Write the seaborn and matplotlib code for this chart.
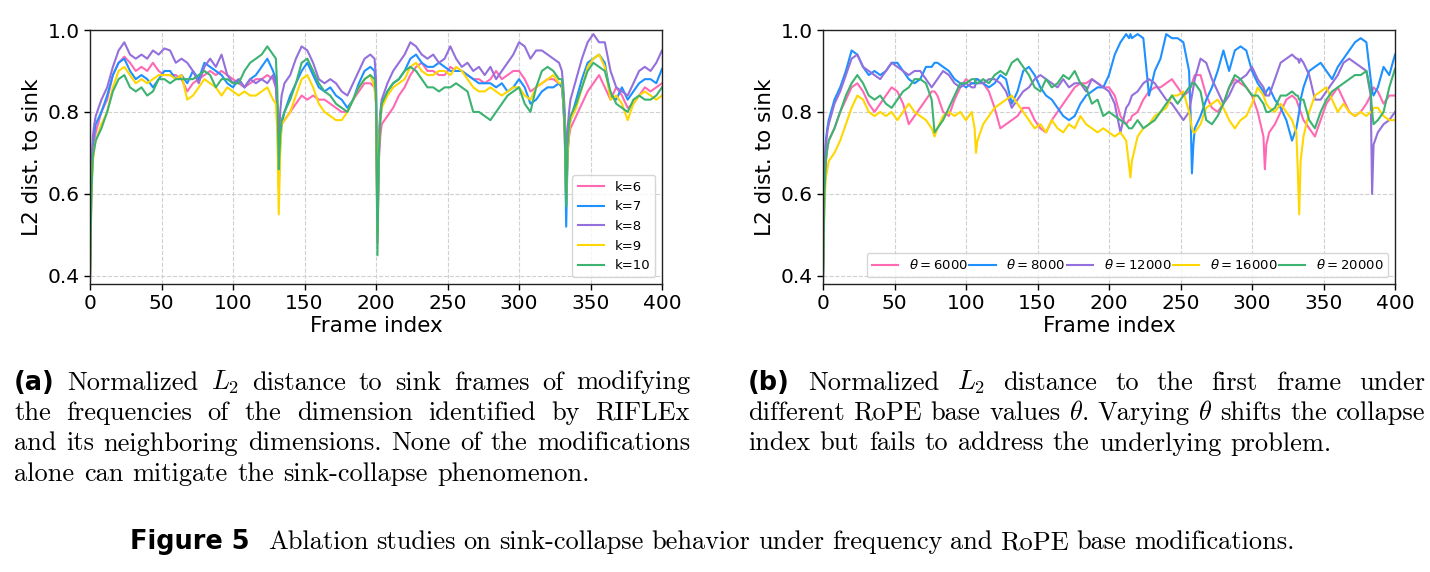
import matplotlib
matplotlib.use("Agg")
import matplotlib.pyplot as plt
import numpy as np
import pandas as pd
import seaborn as sns

# ---------------- data: panel (a) ----------------
frames_a = [0, 1, 2, 3, 4,
            8, 12, 16, 20, 24, 28, 32, 36, 40, 44, 48, 52, 56, 60, 64, 68, 72, 76, 80, 84, 88, 92, 96, 100,
            104, 108, 112, 116, 120, 124, 128,
            130, 131, 132, 133, 134,
            136, 140, 144, 148, 152, 156, 160, 164, 168, 172, 176, 180, 184, 188, 192, 196,
            199, 200, 201, 202, 203, 204,
            208, 212, 216, 220, 224, 228, 232, 236, 240, 244, 248, 252, 256, 260, 264, 268, 272, 276, 280,
            284, 288, 292, 296, 300, 304, 308, 312, 316, 320, 324, 328,
            330, 331, 332, 333, 334, 335, 336,
            340, 344, 348, 352, 356, 360, 364, 368, 372, 376, 380, 384, 388, 392, 396, 400]

k6 = [0.40, 0.62, 0.70, 0.73, 0.75,
      0.80, 0.83, 0.89, 0.92, 0.935, 0.92, 0.90, 0.91, 0.90, 0.92, 0.90, 0.89, 0.89, 0.89, 0.88, 0.85,
      0.87, 0.88, 0.89, 0.90, 0.89, 0.90, 0.89, 0.88, 0.87, 0.86, 0.87, 0.88, 0.88, 0.89, 0.88,
      0.86, 0.80, 0.70, 0.75, 0.77,
      0.78, 0.80, 0.82, 0.84, 0.83, 0.84, 0.83, 0.83, 0.82, 0.81, 0.80, 0.80, 0.83, 0.85, 0.87, 0.87,
      0.86, 0.82, 0.48, 0.68, 0.74, 0.77,
      0.79, 0.81, 0.84, 0.86, 0.89, 0.91, 0.92, 0.90, 0.90, 0.89, 0.89, 0.91, 0.90, 0.90, 0.89, 0.88,
      0.88, 0.87, 0.88, 0.90, 0.88, 0.89, 0.90, 0.90, 0.88, 0.85, 0.86, 0.87, 0.88, 0.88, 0.87,
      0.86, 0.82, 0.74, 0.58, 0.70, 0.74, 0.76,
      0.79, 0.82, 0.85, 0.87, 0.89, 0.86, 0.83, 0.86, 0.84, 0.81, 0.82, 0.84, 0.86, 0.85, 0.86, 0.87]

k7 = [0.40, 0.64, 0.72, 0.75, 0.77,
      0.80, 0.84, 0.89, 0.92, 0.93, 0.90, 0.88, 0.89, 0.88, 0.86, 0.88, 0.90, 0.90, 0.88, 0.89, 0.87,
      0.90, 0.88, 0.92, 0.91, 0.90, 0.89, 0.87, 0.86, 0.88, 0.86, 0.88, 0.89, 0.91, 0.93, 0.90,
      0.88, 0.80, 0.62, 0.72, 0.77,
      0.80, 0.84, 0.87, 0.90, 0.92, 0.89, 0.86, 0.85, 0.86, 0.84, 0.83, 0.81, 0.83, 0.87, 0.90, 0.91,
      0.90, 0.86, 0.50, 0.72, 0.78, 0.82,
      0.85, 0.87, 0.88, 0.90, 0.93, 0.94, 0.92, 0.91, 0.91, 0.92, 0.91, 0.90, 0.90, 0.90, 0.89, 0.88,
      0.87, 0.87, 0.87, 0.86, 0.87, 0.85, 0.86, 0.88, 0.86, 0.82, 0.83, 0.85, 0.86, 0.86, 0.87,
      0.86, 0.82, 0.75, 0.52, 0.70, 0.76, 0.78,
      0.83, 0.88, 0.92, 0.93, 0.94, 0.92, 0.84, 0.83, 0.86, 0.83, 0.85, 0.87, 0.88, 0.88, 0.87, 0.905]

k8 = [0.40, 0.66, 0.74, 0.77, 0.79,
      0.83, 0.86, 0.91, 0.95, 0.97, 0.94, 0.93, 0.94, 0.93, 0.95, 0.94, 0.955, 0.95, 0.92, 0.93, 0.92,
      0.90, 0.87, 0.91, 0.93, 0.91, 0.94, 0.89, 0.87, 0.88, 0.86, 0.88, 0.87, 0.88, 0.87, 0.89,
      0.86, 0.82, 0.72, 0.80, 0.84,
      0.87, 0.89, 0.93, 0.96, 0.95, 0.92, 0.88, 0.87, 0.88, 0.87, 0.85, 0.84, 0.87, 0.90, 0.93, 0.94,
      0.93, 0.88, 0.55, 0.74, 0.80, 0.83,
      0.87, 0.90, 0.92, 0.94, 0.97, 0.96, 0.94, 0.93, 0.94, 0.92, 0.93, 0.96, 0.93, 0.91, 0.92, 0.90,
      0.91, 0.89, 0.91, 0.88, 0.90, 0.92, 0.94, 0.97, 0.96, 0.93, 0.95, 0.95, 0.94, 0.93, 0.92,
      0.90, 0.86, 0.80, 0.68, 0.76, 0.80, 0.83,
      0.88, 0.93, 0.97, 0.99, 0.97, 0.97, 0.90, 0.86, 0.85, 0.84, 0.87, 0.90, 0.91, 0.90, 0.92, 0.95]

k9 = [0.39, 0.60, 0.68, 0.71, 0.73,
      0.77, 0.80, 0.86, 0.90, 0.91, 0.89, 0.87, 0.88, 0.87, 0.88, 0.89, 0.89, 0.89, 0.88, 0.89, 0.83,
      0.84, 0.86, 0.88, 0.87, 0.86, 0.84, 0.86, 0.85, 0.84, 0.85, 0.84, 0.84, 0.85, 0.86, 0.83,
      0.82, 0.75, 0.55, 0.70, 0.77,
      0.78, 0.80, 0.84, 0.88, 0.89, 0.86, 0.82, 0.80, 0.79, 0.78, 0.78, 0.80, 0.83, 0.86, 0.88, 0.89,
      0.86, 0.82, 0.50, 0.72, 0.78, 0.81,
      0.84, 0.86, 0.87, 0.88, 0.91, 0.92, 0.90, 0.89, 0.89, 0.90, 0.90, 0.89, 0.91, 0.90, 0.88, 0.86,
      0.85, 0.85, 0.86, 0.85, 0.84, 0.85, 0.86, 0.86, 0.84, 0.83, 0.86, 0.87, 0.88, 0.89, 0.87,
      0.87, 0.83, 0.76, 0.58, 0.70, 0.75, 0.78,
      0.81, 0.86, 0.91, 0.93, 0.94, 0.91, 0.83, 0.84, 0.82, 0.78, 0.82, 0.84, 0.85, 0.84, 0.83, 0.84]

k10 = [0.38, 0.60, 0.69, 0.71, 0.73,
       0.76, 0.80, 0.85, 0.88, 0.89, 0.86, 0.85, 0.86, 0.84, 0.85, 0.88, 0.88, 0.87, 0.88, 0.88, 0.88,
       0.88, 0.89, 0.90, 0.89, 0.86, 0.88, 0.88, 0.87, 0.87, 0.90, 0.92, 0.93, 0.94, 0.96, 0.94,
       0.93, 0.85, 0.66, 0.74, 0.78,
       0.80, 0.83, 0.87, 0.92, 0.93, 0.90, 0.87, 0.85, 0.84, 0.82, 0.81, 0.80, 0.83, 0.86, 0.88, 0.89,
       0.88, 0.84, 0.45, 0.70, 0.78, 0.82,
       0.85, 0.87, 0.88, 0.90, 0.91, 0.90, 0.88, 0.86, 0.86, 0.85, 0.86, 0.86, 0.87, 0.86, 0.85, 0.80,
       0.80, 0.79, 0.78, 0.80, 0.82, 0.84, 0.85, 0.86, 0.82, 0.80, 0.86, 0.90, 0.91, 0.90, 0.88,
       0.88, 0.84, 0.76, 0.57, 0.72, 0.77, 0.79,
       0.82, 0.86, 0.90, 0.92, 0.91, 0.90, 0.85, 0.82, 0.81, 0.80, 0.83, 0.84, 0.83, 0.83, 0.84, 0.86]

# ---------------- data: panel (b) ----------------
frames_b = [0, 1, 2, 3, 4,
            8, 12, 16, 20, 24, 28, 32, 36, 40, 44, 48, 52, 56, 60, 64, 68, 72, 76,
            78,
            80, 84, 88, 92, 96, 100, 104,
            106, 107,
            108, 112, 116, 120, 124, 128, 132, 136, 140, 144, 148, 152, 156, 160, 164, 168, 172, 176,
            180, 184, 188, 192, 196, 200, 204, 208, 212,
            214, 215,
            216, 220, 224, 228, 232, 236, 240, 244, 248, 252, 256,
            257, 258, 259,
            260, 264, 268, 272, 276, 280, 284, 288, 292, 296, 300, 304, 308,
            309, 310,
            312, 316, 320, 324, 328,
            331, 332, 333, 334,
            336, 340, 344, 348, 352, 356, 360, 364, 368, 372, 376, 380,
            383, 384, 385,
            388, 392, 396, 400]

th6000 = [0.40, 0.60, 0.68, 0.71, 0.73,
          0.76, 0.80, 0.83, 0.86, 0.87, 0.85, 0.82, 0.80, 0.82, 0.84, 0.86, 0.85, 0.82, 0.77, 0.79, 0.81, 0.83, 0.85,
          0.85,
          0.84, 0.80, 0.79, 0.83, 0.86, 0.88, 0.87,
          0.87, 0.88,
          0.88, 0.87, 0.85, 0.81, 0.76, 0.77, 0.78, 0.79, 0.81, 0.81, 0.78, 0.76, 0.75, 0.78, 0.80, 0.82,
          0.84, 0.86, 0.87, 0.87, 0.88, 0.87, 0.86, 0.86, 0.84, 0.79, 0.77,
          0.78, 0.78,
          0.79, 0.80, 0.83, 0.85, 0.86, 0.86, 0.87, 0.88, 0.86, 0.84, 0.85,
          0.86, 0.87, 0.88,
          0.89, 0.89, 0.84, 0.81, 0.80, 0.82, 0.86, 0.88, 0.87, 0.86, 0.84, 0.80, 0.74,
          0.66, 0.72,
          0.75, 0.77, 0.80, 0.83, 0.84,
          0.83, 0.82, 0.81, 0.80,
          0.78, 0.76, 0.74, 0.78, 0.82, 0.84, 0.86, 0.83, 0.80, 0.79, 0.80, 0.82,
          0.84, 0.85, 0.86,
          0.85, 0.82, 0.84, 0.84]

th8000 = [0.40, 0.65, 0.73, 0.76, 0.78,
          0.83, 0.86, 0.90, 0.95, 0.94, 0.91, 0.89, 0.90, 0.89, 0.90, 0.92, 0.92, 0.90, 0.88, 0.87, 0.88, 0.91, 0.91,
          0.92,
          0.92, 0.91, 0.90, 0.88, 0.87, 0.86, 0.87,
          0.87, 0.88,
          0.88, 0.87, 0.86, 0.87, 0.89, 0.88, 0.82, 0.85, 0.90, 0.91, 0.89, 0.86, 0.84, 0.83, 0.81, 0.79,
          0.78, 0.79, 0.82, 0.84, 0.85, 0.86, 0.86, 0.89, 0.94, 0.97, 0.99,
          0.98, 0.99,
          0.98, 0.99, 0.98, 0.84, 0.90, 0.93, 0.99, 0.98, 0.98, 0.97, 0.90,
          0.80, 0.65, 0.72,
          0.76, 0.79, 0.83, 0.86, 0.90, 0.95, 0.90, 0.95, 0.96, 0.95, 0.90, 0.87, 0.85,
          0.84, 0.85,
          0.86, 0.83, 0.81, 0.78, 0.73,
          0.76, 0.78, 0.80, 0.83,
          0.86, 0.90, 0.91, 0.92, 0.90, 0.88, 0.91, 0.93, 0.95, 0.97, 0.98, 0.97,
          0.88, 0.85, 0.84,
          0.86, 0.91, 0.89, 0.94]

th12000 = [0.40, 0.64, 0.72, 0.75, 0.77,
           0.82, 0.85, 0.89, 0.93, 0.94, 0.91, 0.90, 0.89, 0.88, 0.90, 0.92, 0.91, 0.90, 0.89, 0.90, 0.90, 0.88, 0.86,
           0.87,
           0.88, 0.90, 0.89, 0.87, 0.86, 0.87, 0.86,
           0.86, 0.87,
           0.87, 0.87, 0.88, 0.88, 0.87, 0.85, 0.81, 0.83, 0.85, 0.86, 0.88, 0.89, 0.88, 0.87, 0.86, 0.88,
           0.86, 0.87, 0.87, 0.85, 0.88, 0.87, 0.86, 0.85, 0.82, 0.75, 0.81,
           0.82, 0.83,
           0.84, 0.85, 0.87, 0.88, 0.87, 0.85, 0.83, 0.82, 0.80, 0.78, 0.80,
           0.82, 0.84, 0.86,
           0.88, 0.93, 0.92, 0.88, 0.85, 0.82, 0.84, 0.87, 0.88, 0.89, 0.91, 0.88, 0.86,
           0.85, 0.84,
           0.84, 0.88, 0.92, 0.93, 0.94,
           0.93, 0.93, 0.92, 0.93,
           0.92, 0.89, 0.83, 0.83, 0.85, 0.87, 0.89, 0.92, 0.93, 0.92, 0.91, 0.90,
           0.84, 0.60, 0.72,
           0.75, 0.77, 0.78, 0.80]

th16000 = [0.40, 0.58, 0.64, 0.66, 0.68,
           0.70, 0.73, 0.77, 0.81, 0.84, 0.83, 0.80, 0.79, 0.80, 0.79, 0.80, 0.78, 0.80, 0.82, 0.80, 0.79, 0.78, 0.76,
           0.74,
           0.76, 0.79, 0.80, 0.79, 0.80, 0.78, 0.80,
           0.76, 0.70,
           0.73, 0.77, 0.79, 0.81, 0.82, 0.83, 0.84, 0.82, 0.80, 0.78, 0.76, 0.77, 0.75, 0.78, 0.76, 0.75,
           0.77, 0.76, 0.79, 0.77, 0.76, 0.75, 0.76, 0.75, 0.74, 0.75, 0.73,
           0.67, 0.64,
           0.68, 0.74, 0.76, 0.77, 0.79, 0.80, 0.81, 0.84, 0.84, 0.85, 0.80,
           0.78, 0.76, 0.75,
           0.75, 0.77, 0.81, 0.82, 0.83, 0.81, 0.78, 0.76, 0.78, 0.79, 0.82, 0.86, 0.84,
           0.83, 0.82,
           0.81, 0.80, 0.82, 0.80, 0.78,
           0.75, 0.66, 0.55, 0.68,
           0.74, 0.80, 0.84, 0.85, 0.86, 0.83, 0.80, 0.82, 0.80, 0.79, 0.80, 0.79,
           0.80, 0.80, 0.81,
           0.81, 0.79, 0.78, 0.78]

th20000 = [0.38, 0.60, 0.68, 0.71, 0.73,
           0.76, 0.80, 0.84, 0.87, 0.89, 0.87, 0.84, 0.83, 0.84, 0.82, 0.81, 0.83, 0.85, 0.86, 0.88, 0.88, 0.87, 0.83,
           0.75,
           0.76, 0.78, 0.81, 0.84, 0.87, 0.87, 0.88,
           0.88, 0.87,
           0.87, 0.88, 0.87, 0.89, 0.90, 0.89, 0.92, 0.93, 0.91, 0.89, 0.86, 0.85, 0.88, 0.86, 0.87, 0.89,
           0.88, 0.90, 0.87, 0.86, 0.82, 0.83, 0.79, 0.80, 0.79, 0.78, 0.77,
           0.76, 0.76,
           0.76, 0.78, 0.76, 0.77, 0.78, 0.80, 0.82, 0.84, 0.82, 0.84, 0.86,
           0.86, 0.87, 0.87,
           0.87, 0.85, 0.78, 0.77, 0.79, 0.82, 0.86, 0.89, 0.88, 0.86, 0.84, 0.84, 0.82,
           0.81, 0.80,
           0.80, 0.81, 0.84, 0.84, 0.85,
           0.84, 0.84, 0.83, 0.83,
           0.83, 0.78, 0.76, 0.80, 0.83, 0.85, 0.86, 0.87, 0.88, 0.89, 0.89, 0.90,
           0.85, 0.80, 0.77,
           0.78, 0.80, 0.86, 0.905]

labels_a = ["k=6", "k=7", "k=8", "k=9", "k=10"]
labels_b = [r"$\theta = 6000$", r"$\theta = 8000$", r"$\theta = 12000$",
            r"$\theta = 16000$", r"$\theta = 20000$"]
colors = ["#FF69B4", "#1E90FF", "#9370DB", "#FFD700", "#3CB371"]
xticks = [0, 50, 100, 150, 200, 250, 300, 350, 400]
yticks = [0.4, 0.6, 0.8, 1.0]

# ---------------- figure ----------------
W, H = 1430, 572
fig = plt.figure(figsize=(W / 100, H / 100), dpi=100)
axA = fig.add_axes([90 / W, 1 - 284 / H, 572 / W, 254 / H])
axB = fig.add_axes([823 / W, 1 - 284 / H, 572 / W, 254 / H])


def long_df(frames, series, labels):
    parts = []
    for vals, lab in zip(series, labels):
        parts.append(pd.DataFrame({"frame": frames, "value": vals, "series": lab}))
    return pd.concat(parts, ignore_index=True)


def draw_panel(ax, frames, series, labels):
    df = long_df(frames, series, labels)
    sns.lineplot(data=df, x="frame", y="value", hue="series", hue_order=labels,
                 palette=colors, linewidth=1.5, estimator=None, sort=False, ax=ax)
    ax.set_xlim(0, 400)
    ax.set_ylim(0.38, 1.0)
    ax.set_xticks(xticks)
    ax.set_yticks(yticks)
    ax.yaxis.set_major_formatter(matplotlib.ticker.FormatStrFormatter("%.1f"))
    ax.grid(True, linestyle="--", color="#d0d0d0", linewidth=0.8)
    ax.set_axisbelow(True)
    ax.tick_params(labelsize=14.5, length=4, width=1)
    for sp in ax.spines.values():
        sp.set_linewidth(1.0)
        sp.set_color("#222222")
    ax.set_xlabel("Frame index", fontsize=15.5, labelpad=2)
    ax.set_ylabel("L2 dist. to sink", fontsize=15.5, labelpad=4)


draw_panel(axA, frames_a, [k6, k7, k8, k9, k10], labels_a)
draw_panel(axB, frames_b, [th6000, th8000, th12000, th16000, th20000], labels_b)
sns.move_legend(axA, "lower right", title=None, fontsize=9.5, frameon=True)
sns.move_legend(axB, "lower right", title=None, fontsize=9.5, ncol=5, columnspacing=0.1,
                handletextpad=0.8, frameon=True)

# ---------------- captions ----------------
renderer = fig.canvas.get_renderer()
serif = dict(family="cmr10", math_fontfamily="cm")
boldsans = dict(family="DejaVu Sans", weight="bold")
PX_PER_PT = 100 / 72


def measure(s, size, props):
    t = fig.text(0, 0, s, fontsize=size, **props)
    w = t.get_window_extent(renderer).width
    t.remove()
    return w


# calibrate the caption size on the (unjustified) last line of caption (a)
ref_words = "alone can mitigate the sink-collapse phenomenon.".split(" ")
glyphs10 = sum(measure(w, 10, serif) for w in ref_words)
space10 = 0.333 * 10 * PX_PER_PT
CS = 0.955 * 10 * 599 / (glyphs10 + space10 * (len(ref_words) - 1))
SPACE = 0.36 * CS * PX_PER_PT


def put_line(words, x0, x1, y, justify=True):
    widths = [measure(w, sz, p) for w, p, sz in words]
    if justify and len(words) > 1:
        gap = (x1 - x0 - sum(widths)) / (len(words) - 1)
    else:
        gap = SPACE
    x = x0
    for (w, p, sz), wd in zip(words, widths):
        fig.text(x / W, 1 - y / H, w, fontsize=sz, ha="left", va="baseline", **p)
        x += wd + gap


def words_of(s):
    return [(w, serif, CS) for w in s.split(" ")]


BS = CS * 0.97
cap_a = [
    [("(a)", boldsans, BS)] + words_of("Normalized $L_2$ distance to sink frames of modifying"),
    words_of("the frequencies of the dimension identified by RIFLEx"),
    words_of("and its neighboring dimensions. None of the modifications"),
    words_of("alone can mitigate the sink-collapse phenomenon."),
]
cap_b = [
    [("(b)", boldsans, BS)] + words_of("Normalized $L_2$ distance to the first frame under"),
    words_of(r"different RoPE base values $\theta$. Varying $\theta$ shifts the collapse"),
    words_of("index but fails to address the underlying problem."),
]
baselines = [389.5, 420, 450.5, 481]
for i, line in enumerate(cap_a):
    put_line(line, 14, 690, baselines[i], justify=(i < len(cap_a) - 1))
for i, line in enumerate(cap_b):
    put_line(line, 748, 1425, baselines[i], justify=(i < len(cap_b) - 1))

# figure caption: bold label, then justified serif text
fig_label_w = measure("Figure 5", BS, boldsans)
fig.text(130 / W, 1 - 549 / H, "Figure 5", fontsize=BS, ha="left", va="baseline", **boldsans)
put_line(words_of("Ablation studies on sink-collapse behavior under frequency and RoPE base modifications."),
         130 + fig_label_w + 0.7 * CS * PX_PER_PT, 1295, 549, justify=True)

fig.savefig("out.png", dpi=100)
